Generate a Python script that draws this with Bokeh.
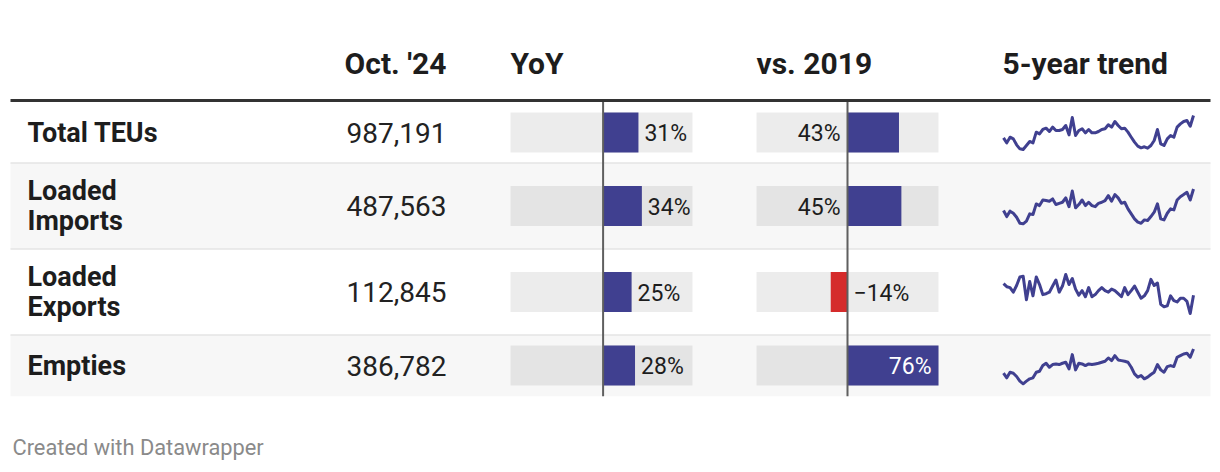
from bokeh.plotting import figure
from bokeh.models import Range1d, ColumnDataSource
from bokeh.embed import file_html
from bokeh.resources import INLINE
from bokeh.core.properties import value

# ---------------- data ----------------
categories = ["Total TEUs", "Loaded\nImports", "Loaded\nExports", "Empties"]
column_titles = ["Oct. '24", "YoY", "vs. 2019", "5-year trend"]
oct_24 = [987191, 487563, 112845, 386782]
yoy_pct = [31, 34, 25, 28]
vs_2019_pct = [43, 45, -14, 76]

# monthly TEUs (thousands), last five years
trend_total = [680, 611, 689, 666, 584, 529, 520, 575, 630, 611,
               758, 735, 795, 813, 767, 827, 781, 781, 795, 850,
               721, 960, 712, 781, 804, 749, 795, 749, 749, 767,
               795, 804, 859, 827, 905, 850, 804, 813, 758, 689,
               621, 566, 543, 557, 538, 575, 643, 795, 598, 575,
               666, 712, 689, 827, 872, 905, 918, 840, 987]
trend_imports = [345, 305, 341, 327, 301, 261, 257, 275, 323, 319,
                 389, 378, 415, 411, 407, 422, 385, 393, 400, 429,
                 371, 475, 363, 385, 415, 378, 400, 378, 371, 393,
                 400, 411, 444, 407, 451, 429, 393, 400, 356, 323,
                 290, 268, 261, 283, 279, 305, 334, 389, 290, 283,
                 327, 356, 349, 415, 437, 451, 466, 415, 488]
trend_exports = [128.0, 124.0, 122.8, 116.8, 125.6, 136.8, 137.6, 106.8, 130.8, 112.0,
                 136.8, 126.8, 113.6, 114.8, 116.8, 124.8, 132.8, 116.8, 124.8, 140.0,
                 126.8, 134.8, 120.8, 112.8, 118.8, 110.8, 122.8, 110.8, 113.6, 118.8,
                 122.8, 118.8, 116.8, 120.8, 118.8, 114.8, 110.8, 122.8, 113.6, 118.8,
                 124.8, 116.8, 108.8, 112.0, 118.8, 133.6, 125.6, 128.8, 100.8, 97.6,
                 98.8, 112.0, 105.6, 104.0, 108.8, 108.8, 104.8, 88.8, 112.8]
trend_empties = [262.7, 238.9, 267.8, 262.7, 245.7, 221.9, 208.3, 221.9, 233.8, 238.9,
                 267.8, 272.9, 301.8, 313.7, 293.3, 306.9, 310.3, 306.9, 313.7, 318.8,
                 284.8, 357.9, 279.7, 313.7, 310.3, 301.8, 310.3, 306.9, 310.3, 313.7,
                 318.8, 323.9, 340.9, 327.3, 352.8, 330.7, 327.3, 323.9, 318.8, 293.3,
                 259.3, 242.3, 250.8, 233.8, 242.3, 255.9, 267.8, 306.9, 279.7, 267.8,
                 296.7, 301.8, 296.7, 344.3, 352.8, 361.3, 364.7, 344.3, 386.8]
trends = [trend_total, trend_imports, trend_exports, trend_empties]
footer_text = "Created with Datawrapper"

# ---------------- layout / style ----------------
W, H = 1212, 464
OFF = 0  # figure sits at the page's top-left corner


def fx(px):
    return px - OFF


def fy(py):
    return py - OFF


FONT = value("Roboto")
BLUE = "#404090"
RED = "#d52b2b"
INK = "#1d1d1d"

ROW_EDGES = [101.5, 162.5, 248.5, 334.5, 395.7]
row_centers = [(ROW_EDGES[i] + ROW_EDGES[i + 1]) / 2 for i in range(4)]
TABLE_L, TABLE_R = 10, 1210

YOY_DOM, YOY_PX = (-81.2, 78.4), (510, 692)
VS_DOM, VS_PX = (-76, 76), (756, 938)
SPARK_PX = (1003, 1193)
SPARK_BANDS = [(115, 149), (188.5, 223.3), (274, 313), (348.5, 383.3)]

p = figure(width=W, height=H, x_range=Range1d(0, W), y_range=Range1d(H, 0),
           output_backend="svg", toolbar_location=None,
           x_axis_type=None, y_axis_type=None,
           min_border=0, min_border_left=0, min_border_right=0,
           min_border_top=0, min_border_bottom=0)
p.outline_line_color = None
p.grid.visible = False
p.background_fill_color = "white"
p.border_fill_color = "white"


def x_range_for(d0, d1, a, b):
    s = (b - a) / (d1 - d0)
    start = d0 - fx(a) / s
    return Range1d(start, start + W / s)


def y_range_for(d0, d1, y_bottom, y_top):
    # d0 -> page y_bottom, d1 -> page y_top
    s = (y_bottom - y_top) / (d1 - d0)
    start = d0 - (H - fy(y_bottom)) / s
    return Range1d(start, start + H / s)


extra_x = {
    "yoy": x_range_for(YOY_DOM[0], YOY_DOM[1], *YOY_PX),
    "vs": x_range_for(VS_DOM[0], VS_DOM[1], *VS_PX),
}
n_months = len(trend_total)
extra_x["spark"] = x_range_for(0, n_months - 1, *SPARK_PX)
extra_y = {}
for i, tr in enumerate(trends):
    top, bottom = SPARK_BANDS[i]
    extra_y[f"spark{i}"] = y_range_for(min(tr), max(tr), bottom, top)
p.extra_x_ranges = extra_x
p.extra_y_ranges = extra_y

# row backgrounds and rules
for i in range(4):
    if i % 2 == 1:
        p.quad(left=fx(TABLE_L), right=fx(TABLE_R), top=fy(ROW_EDGES[i]), bottom=fy(ROW_EDGES[i + 1]),
               fill_color="#f7f7f7", line_color=None)
for e in ROW_EDGES[1:4]:
    p.segment(x0=fx(TABLE_L), x1=fx(TABLE_R), y0=fy(e), y1=fy(e), line_color="#e4e4e4", line_width=1.5)
p.segment(x0=fx(TABLE_L), x1=fx(TABLE_R), y0=fy(100), y1=fy(100), line_color="#333333", line_width=3)

centers_f = [fy(c) for c in row_centers]


def bar_column(vals, dom, px, rname):
    s = (px[1] - px[0]) / (dom[1] - dom[0])
    fit_units = 48 / s
    p.hbar(y=centers_f, left=dom[0], right=dom[1], height=40, x_range_name=rname,
           fill_color="black", fill_alpha=0.075, line_color=None)
    src = ColumnDataSource(dict(y=centers_f, right=vals,
                                color=[BLUE if v >= 0 else RED for v in vals]))
    p.hbar(y="y", left=0, right="right", height=40, x_range_name=rname, source=src,
           fill_color="color", line_color=None)
    p.segment(x0=0, x1=0, y0=fy(ROW_EDGES[0]), y1=fy(ROW_EDGES[-1]), x_range_name=rname,
              line_color="#5f5f5f", line_width=2)
    groups = {}
    for v, c in zip(vals, centers_f):
        lab = (f"{v}%" if v >= 0 else f"\u2212{abs(v)}%")
        if v < 0:
            key, x = ("left", 6, INK), 0
        elif dom[1] - v >= fit_units:
            key, x = ("left", 6, INK), v
        elif v >= 0.8 * dom[1]:
            key, x = ("right", -7, "white"), v
        else:
            key, x = ("right", -7, INK), 0
        g = groups.setdefault(key, dict(x=[], y=[], t=[]))
        g["x"].append(x)
        g["y"].append(c + 1.3)
        g["t"].append(lab)
    for (align, off, col), g in groups.items():
        p.text(x=g["x"], y=g["y"], text=g["t"], x_range_name=rname, x_offset=off,
               text_align=align, text_baseline="middle", text_font=FONT,
               text_font_size="23px", text_color=col)


bar_column(yoy_pct, YOY_DOM, YOY_PX, "yoy")
bar_column(vs_2019_pct, VS_DOM, VS_PX, "vs")

# sparklines
months = list(range(n_months))
for i, tr in enumerate(trends):
    p.line(x=months, y=tr, x_range_name="spark", y_range_name=f"spark{i}",
           line_color=BLUE, line_width=3, line_join="round")

# header texts
HEAD_MID = 62.6
p.text(x=[fx(446)], y=[fy(HEAD_MID)], text=[column_titles[0]], text_align="right",
       text_baseline="middle", text_font=FONT, text_font_style="bold",
       text_font_size="30px", text_color=INK)
p.text(x=[fx(510), fx(756), fx(1002)], y=[fy(HEAD_MID)] * 3, text=column_titles[1:],
       text_align="left", text_baseline="middle", text_font=FONT, text_font_style="bold",
       text_font_size="30px", text_color=INK)

# row labels
lx, ly, lt = [], [], []
for lab, c in zip(categories, row_centers):
    lines = lab.split("\n")
    n = len(lines)
    for k, ln in enumerate(lines):
        lx.append(fx(27))
        ly.append(fy(c + (k - (n - 1) / 2) * 30))
        lt.append(ln)
p.text(x=lx, y=ly, text=lt, text_align="left", text_baseline="middle",
       text_font=FONT, text_font_style="bold", text_font_size="27px", text_color=INK)

# numbers
p.text(x=[fx(446)] * 4, y=[fy(c + 0.4) for c in row_centers], text=[f"{v:,}" for v in oct_24],
       text_align="right", text_baseline="middle", text_font=FONT,
       text_font_size="28px", text_color="#222222")

# footer
p.text(x=[fx(12)], y=[fy(447.2)], text=[footer_text], text_align="left",
       text_baseline="middle", text_font=FONT, text_font_size="21.8px", text_color="#8a8a8a")

open("out.html", "w").write(file_html(p, INLINE))
